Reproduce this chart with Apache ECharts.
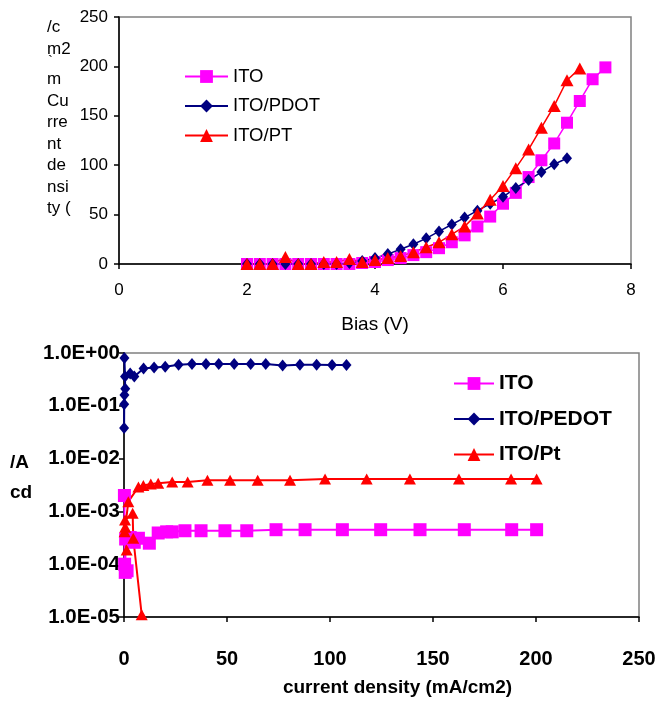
<!DOCTYPE html>
<html>
	<head>
		<meta charset="utf-8" />
		<title>ITO curves</title>
		<script src="https://cdn.jsdelivr.net/npm/echarts@6/dist/echarts.min.js"></script>
		<style>
			body { margin: 0; background: #fff; }
			#main { width: 662px; height: 707px; }
		</style>
	</head>
	<body>
		<div id="main"></div>
	<script>
	// top chart: current density vs bias
	var biasITO  = [2.0,2.2,2.4,2.6,2.8,3.0,3.2,3.4,3.6,3.8,4.0,4.2,4.4,4.6,4.8,5.0,5.2,5.4,5.6,5.8,6.0,6.2,6.4,6.6,6.8,7.0,7.2,7.4,7.6];
	var jITO     = [0,0,0,0,0,0,0,0,0,1,2,4,6,9,12,16,22,29,38,48,61,72,88,105,122,143,165,187,199];
	var biasPDOT = [2.0,2.2,2.4,2.6,2.8,3.0,3.2,3.4,3.6,3.8,4.0,4.2,4.4,4.6,4.8,5.0,5.2,5.4,5.6,5.8,6.0,6.2,6.4,6.6,6.8,7.0];
	var jPDOT    = [0,0,0,0,0,0,0,0,1,3,6,10,15,20,26,33,40,47,54,61,68,77,85,93,101,107];
	var biasPT   = [2.0,2.2,2.4,2.6,2.8,3.0,3.2,3.4,3.6,3.8,4.0,4.2,4.4,4.6,4.8,5.0,5.2,5.4,5.6,5.8,6.0,6.2,6.4,6.6,6.8,7.0,7.2];
	var jPT      = [0,0,0,7,0,0,2,2,5,2,4,6,8,12,17,22,30,38,51,65,79,97,116,138,160,186,198];

	// bottom chart: efficiency vs current density (log)
	var cdITO   = [0.2,0.3,0.6,1.5,0.8,3,5,7,12.3,16.6,20.7,23.4,29.6,37.4,49,59.6,73.8,87.9,106,124.6,143.7,165.2,188.2,200.3];
	var effITO  = [2.0e-3,1.0e-4,7.0e-5,7.5e-5,3.0e-4,3.2e-4,2.6e-4,3.1e-4,2.5e-4,3.9e-4,4.1e-4,4.1e-4,4.3e-4,4.3e-4,4.3e-4,4.3e-4,4.5e-4,4.5e-4,4.5e-4,4.5e-4,4.5e-4,4.5e-4,4.5e-4,4.5e-4];
	var cdPEDOT  = [0.05,0.1,0.2,0.6,0.2,0.5,3,5,9.5,14.6,20,26.5,33,39.8,46,53.5,61.5,68.8,77,85.4,93.5,101,108];
	var effPEDOT = [0.038,0.107,0.16,0.21,0.8,0.36,0.41,0.36,0.51,0.53,0.55,0.6,0.62,0.62,0.62,0.62,0.62,0.62,0.58,0.6,0.6,0.59,0.59];
	var cdPt   = [8.6,4.5,4.2,0.5,0.3,1.3,0.6,2.1,7,9.4,13,16.6,23.4,30.9,40.5,51.5,64.9,80.6,97.6,117.8,138.8,162.6,187.9,200.3];
	var effPt  = [1.1e-5,3.1e-4,9.2e-4,6.9e-4,4.1e-4,1.86e-4,5.0e-4,1.53e-3,2.9e-3,3.1e-3,3.3e-3,3.4e-3,3.6e-3,3.6e-3,3.9e-3,3.9e-3,3.9e-3,3.9e-3,4.1e-3,4.1e-3,4.1e-3,4.1e-3,4.1e-3,4.1e-3];

	function pairs(xs, ys){
		var out = [];
		for (var i = 0; i < xs.length; i++) out.push([xs[i], ys[i]]);
		return out;
	}

	function sciLabel(v){
		var e = Math.round(Math.log(v) / Math.LN10);
		var a = Math.abs(e);
		return '1.0E' + (e < 0 ? '-' : '+') + (a < 10 ? '0' : '') + a;
	}

	var FONT = 'Arial, "Liberation Sans", sans-serif';
	var MAGENTA = '#ff00ff', NAVY = '#000080', RED = '#ff0000';

	var chart = echarts.init(document.getElementById('main'));

	var axisBase = {
		axisLine: { show: true, onZero: false, lineStyle: { color: '#000', width: 1.5 } },
		axisTick: { show: true, inside: false, length: 5, lineStyle: { color: '#000', width: 1.5 } },
		splitLine: { show: false }
	};

	var option = {
		backgroundColor: '#fff',
		animation: false,
		grid: [
			{ left: 119, top: 17, right: 31, bottom: 443, show: true, borderColor: '#808080', borderWidth: 1.5, containLabel: false },
			{ left: 124, top: 353, right: 23, bottom: 90, show: true, borderColor: '#808080', borderWidth: 1.5, containLabel: false }
		],
		xAxis: [
			Object.assign({
				gridIndex: 0, type: 'value', min: 0, max: 8, interval: 2,
				name: 'Bias (V)', nameLocation: 'middle', nameGap: 51,
				nameTextStyle: { fontFamily: FONT, fontSize: 19, color: '#000' },
				axisLabel: { margin: 18, fontFamily: FONT, fontSize: 17, color: '#000' }
			}, axisBase),
			Object.assign({
				gridIndex: 1, type: 'value', min: 0, max: 250, interval: 50,
				name: 'current density (mA/cm2)', nameLocation: 'middle', nameGap: 61,
				nameTextStyle: { fontFamily: FONT, fontSize: 19, fontWeight: 'bold', color: '#000', padding: [0, 0, 0, 32] },
				axisLabel: { margin: 32, fontFamily: FONT, fontSize: 20, fontWeight: 'bold', color: '#000' }
			}, axisBase)
		],
		yAxis: [
			Object.assign({
				gridIndex: 0, type: 'value', min: 0, max: 250, interval: 50,
				axisLabel: { margin: 11, fontFamily: FONT, fontSize: 17, color: '#000' }
			}, axisBase),
			Object.assign({
				gridIndex: 1, type: 'log', logBase: 10, min: 1e-5, max: 1,
				axisLabel: { margin: 4, fontFamily: FONT, fontSize: 20.5, fontWeight: 'bold', color: '#000', formatter: sciLabel }
			}, axisBase)
		],
		legend: [
			{
				data: ['ITO', 'ITO/PDOT', 'ITO/PT'],
				orient: 'vertical', left: 184, top: 67, padding: 0,
				itemWidth: 43, itemHeight: 16, itemGap: 10.5,
				textStyle: { fontFamily: FONT, fontSize: 18.5, lineHeight: 18, color: '#000' },
				selectedMode: false
			},
			{
				data: ['ITO', 'ITO/PEDOT', 'ITO/Pt'],
				orient: 'vertical', left: 453, top: 373, padding: 0,
				itemWidth: 40, itemHeight: 16, itemGap: 14.5,
				textStyle: { fontFamily: FONT, fontSize: 21, lineHeight: 21, fontWeight: 'bold', color: '#000' },
				selectedMode: false
			}
		],
		graphic: [
			{ type: 'text', left: 47, top: 17, style: { text: '/c\nm2', fontFamily: FONT, fontSize: 17, lineHeight: 21.5, fill: '#000' } },
			{ type: 'text', left: 48, top: 54, style: { text: '`', fontFamily: FONT, fontSize: 15, fill: '#000' } },
			{ type: 'text', left: 47, top: 69, style: { text: 'm\nCu\nrre\nnt\nde\nnsi\nty (', fontFamily: FONT, fontSize: 17, lineHeight: 21.5, fill: '#000' } },
			{ type: 'text', left: 10, top: 448, style: { text: '/A\ncd', fontFamily: FONT, fontSize: 19, fontWeight: 'bold', lineHeight: 30, fill: '#000' } }
		],
		series: [
			{
				name: 'ITO', type: 'line', xAxisIndex: 0, yAxisIndex: 0,
				data: pairs(biasITO, jITO),
				symbol: 'rect', symbolSize: 12,
				itemStyle: { color: MAGENTA }, lineStyle: { color: MAGENTA, width: 1.5 }
			},
			{
				name: 'ITO/PDOT', type: 'line', xAxisIndex: 0, yAxisIndex: 0,
				data: pairs(biasPDOT, jPDOT),
				symbol: 'diamond', symbolSize: [10, 12],
				itemStyle: { color: NAVY }, lineStyle: { color: NAVY, width: 1.5 }
			},
			{
				name: 'ITO/PT', type: 'line', xAxisIndex: 0, yAxisIndex: 0,
				data: pairs(biasPT, jPT),
				symbol: 'triangle', symbolSize: [13, 12],
				itemStyle: { color: RED }, lineStyle: { color: RED, width: 1.5 }
			},
			{
				name: 'ITO', type: 'line', xAxisIndex: 1, yAxisIndex: 1,
				data: pairs(cdITO, effITO),
				symbol: 'rect', symbolSize: 13,
				itemStyle: { color: MAGENTA }, lineStyle: { color: MAGENTA, width: 2 }
			},
			{
				name: 'ITO/PEDOT', type: 'line', xAxisIndex: 1, yAxisIndex: 1,
				data: pairs(cdPEDOT, effPEDOT),
				symbol: 'diamond', symbolSize: [10, 12],
				itemStyle: { color: NAVY }, lineStyle: { color: NAVY, width: 2 }
			},
			{
				name: 'ITO/Pt', type: 'line', xAxisIndex: 1, yAxisIndex: 1,
				data: pairs(cdPt, effPt),
				symbol: 'triangle', symbolSize: [12, 11],
				itemStyle: { color: RED }, lineStyle: { color: RED, width: 2 }
			}
		]
	};

	chart.setOption(option);
	</script>
	</body>
</html>
